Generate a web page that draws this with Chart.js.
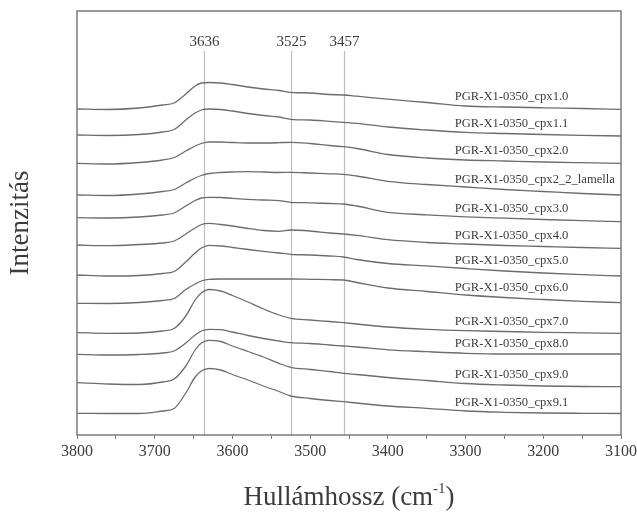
<!DOCTYPE html>
<html lang="hu">
<head>
<meta charset="utf-8">
<title>PGR-X1-0350 cpx – OH sávok</title>
<script src="https://cdn.jsdelivr.net/npm/chart.js@4.4.1/dist/chart.umd.min.js"></script>
<style>
  html, body { margin: 0; padding: 0; background: #fff; }
  #wrap { width: 637px; height: 512px; position: relative; }
</style>
</head>
<body>
<div id="wrap"><canvas id="spektrum"></canvas></div>
<script>
// --- Adatok (leolvasva az ábráról, eltolt spektrumok, tetszőleges egység) ---
const hullamszam = [3800, 3760, 3720, 3690, 3675, 3660, 3648, 3640, 3630, 3615, 3600, 3580, 3560,
                    3540, 3525, 3500, 3475, 3457, 3440, 3400, 3350, 3300, 3250, 3200, 3150, 3100];

const mintak = ['PGR-X1-0350_cpx1.0', 'PGR-X1-0350_cpx1.1', 'PGR-X1-0350_cpx2.0',
                'PGR-X1-0350_cpx2_2_lamella', 'PGR-X1-0350_cpx3.0', 'PGR-X1-0350_cpx4.0',
                'PGR-X1-0350_cpx5.0', 'PGR-X1-0350_cpx6.0', 'PGR-X1-0350_cpx7.0',
                'PGR-X1-0350_cpx8.0', 'PGR-X1-0350_cpx9.0', 'PGR-X1-0350_cpx9.1'];

const cpx1_0 = [326, 325.5, 327, 330, 332, 341, 349, 352, 352.5, 352, 350.5, 348, 346,
                344.5, 342.7, 342, 340.5, 340, 338.8, 335.8, 332.5, 329, 328, 327.2, 326.5, 325.7];
const cpx1_1 = [300, 299.5, 300.5, 303, 305.5, 315, 322, 325, 326, 325.5, 324, 321.5, 319.5,
                318, 315.7, 315, 313.7, 312.7, 311.7, 308, 305, 302.7, 301.5, 300.5, 299.7, 299];
const cpx2_0 = [271.7, 271, 272.5, 275, 277.5, 284, 289, 291.5, 293, 293, 292.5, 292, 292,
                292.3, 292.7, 291.5, 289.5, 288.3, 286.5, 280.5, 277, 275, 274, 273, 272.3, 271.7];
const cpx2_2 = [240, 239.5, 241, 243.5, 245.5, 252, 257, 259.5, 261.5, 262.5, 263, 263.3, 263,
                262.5, 262.7, 262, 261.2, 260.7, 259, 253.7, 250.5, 248, 245.5, 243.5, 241.5, 240];
const cpx3_0 = [217.3, 217, 218, 220, 222, 229, 234.5, 237, 237.7, 237.5, 236.7, 235.7, 235,
                234.3, 232.7, 232.2, 231.5, 231, 229, 222.7, 220.2, 218.2, 216.8, 215.5, 214.3, 213.3];
const cpx4_0 = [190, 189.3, 190.5, 192, 194, 201, 207, 210.5, 211.7, 210.5, 209, 206.5, 204.5,
                203.7, 205, 204, 202, 201, 199.7, 195.3, 192.5, 191, 189.5, 188.5, 187.5, 186.7];
const cpx5_0 = [160, 159, 159.5, 161.5, 163.5, 173, 182, 187, 189.7, 189, 187.5, 185.5, 183.7,
                182, 180.7, 180, 179, 178, 175.5, 171.5, 169.2, 166.5, 164, 162, 160.3, 159];
const cpx6_0 = [131.7, 131.5, 132.5, 134.5, 136.5, 145.5, 151, 154, 155.7, 156, 156, 156, 156,
                156, 156, 155.7, 155.3, 155, 152.5, 147, 143.5, 140, 137.5, 135.5, 133.7, 132.3];
const cpx7_0 = [102.3, 101.7, 102, 104, 106.5, 119, 135, 142, 145.5, 144, 139.5, 133, 126,
                120, 116.7, 115, 113.5, 112.3, 111, 108, 105.7, 104.3, 103.5, 102.7, 102.2, 101.7];
const cpx8_0 = [80.7, 80, 80.5, 82, 84, 92, 100, 104, 105.7, 105.3, 103, 99.5, 96.5,
                94, 92.3, 91.5, 90, 89, 88, 85.2, 83.3, 81.7, 81, 81, 81, 81];
const cpx9_0 = [52.3, 51, 50.5, 53, 56, 69, 85, 92, 94.7, 93.5, 89, 83.5, 78,
                71.7, 67.7, 65.5, 63.5, 61.7, 60.5, 57.5, 54.5, 51.5, 50, 49, 48.5, 48.3];
const cpx9_1 = [21.7, 21.5, 21.5, 24, 26.5, 42, 58, 64, 66.5, 65, 60.5, 55, 49,
                43.5, 39, 36.5, 34.5, 33.3, 32, 29, 26.7, 24, 22.7, 22, 21.7, 21.5];

const spektrumok = [cpx1_0, cpx1_1, cpx2_0, cpx2_2, cpx3_0, cpx4_0,
                    cpx5_0, cpx6_0, cpx7_0, cpx8_0, cpx9_0, cpx9_1];

// jellemző OH sávok (cm-1)
const csucsok = [3636, 3525, 3457];
const xTickek = [3800, 3700, 3600, 3500, 3400, 3300, 3200, 3100];

// --- Megjelenés ---
const SERIF = '"Liberation Serif", "DejaVu Serif", serif';
const SZOVEG = '#3c3c3c';
const VONAL = '#6c6c6c';
const KERET = '#7c7c7c';
const CIMKE_HULLAMSZAM = 3314;   // a mintanevek bal széle
const CIMKE_REF_INDEX = 22;      // a görbe ezen pontja fölé kerül a név

const keretPlugin = {
    id: 'keret',
    beforeDatasetsDraw(chart) {
        const { ctx, chartArea, scales } = chart;
        ctx.save();
        ctx.strokeStyle = '#bdbdbd';
        ctx.lineWidth = 1.2;
        ctx.font = `15px ${SERIF}`;
        ctx.fillStyle = SZOVEG;
        ctx.textAlign = 'center';
        ctx.textBaseline = 'middle';
        csucsok.forEach(c => {
            const x = Math.round(scales.x.getPixelForValue(c)) + 0.5;
            ctx.beginPath();
            ctx.moveTo(x, chartArea.bottom);
            ctx.lineTo(x, chartArea.top + 40);
            ctx.stroke();
            ctx.fillText(String(c), x, chartArea.top + 31);
        });
        ctx.restore();
    },
    afterDraw(chart) {
        const { ctx, chartArea, scales } = chart;
        ctx.save();
        // teljes keret
        ctx.strokeStyle = KERET;
        ctx.lineWidth = 1.5;
        ctx.strokeRect(chartArea.left, chartArea.top,
                       chartArea.right - chartArea.left, chartArea.bottom - chartArea.top);

        // mintanevek
        ctx.font = `12.6px ${SERIF}`;
        ctx.fillStyle = SZOVEG;
        ctx.textAlign = 'left';
        ctx.textBaseline = 'middle';
        const xc = scales.x.getPixelForValue(CIMKE_HULLAMSZAM);
        spektrumok.forEach((s, i) => {
            const y = scales.y.getPixelForValue(s[CIMKE_REF_INDEX]) - 10;
            ctx.fillText(mintak[i], xc, y);
        });

        // x tengely címe felső indexszel
        const fo = `27px ${SERIF}`, felso = `15px ${SERIF}`;
        const t1 = 'Hullámhossz (cm', t2 = '-1', t3 = ')';
        ctx.font = fo;
        const w1 = ctx.measureText(t1).width, w3 = ctx.measureText(t3).width;
        ctx.font = felso;
        const w2 = ctx.measureText(t2).width;
        const kozep = (chartArea.left + chartArea.right) / 2;
        let x = kozep - (w1 + w2 + w3) / 2;
        const alap = chartArea.bottom + 70;
        ctx.textBaseline = 'alphabetic';
        ctx.font = fo;
        ctx.fillText(t1, x, alap);
        x += w1;
        ctx.font = felso;
        ctx.fillText(t2, x, alap - 12);
        x += w2;
        ctx.font = fo;
        ctx.fillText(t3, x, alap);
        ctx.restore();
    }
};

function inicializarSpektrumok() {
    const ctx = document.getElementById('spektrum');

    const datasets = spektrumok.map((s, i) => ({
        label: mintak[i],
        data: hullamszam.map((h, j) => ({ x: h, y: s[j] })),
        borderColor: VONAL,
        borderWidth: 1.3,
        pointRadius: 0,
        fill: false,
        cubicInterpolationMode: 'monotone'
    }));

    new Chart(ctx, {
        type: 'line',
        data: { datasets },
        options: {
            responsive: true,
            maintainAspectRatio: false,
            animation: false,
            devicePixelRatio: 1,
            layout: { padding: { top: 11, right: 16, left: 0, bottom: 0 } },
            plugins: { legend: { display: false }, tooltip: { enabled: false } },
            scales: {
                x: {
                    type: 'linear',
                    min: 3100,
                    max: 3800,
                    reverse: true,
                    border: { display: false },
                    grid: { drawOnChartArea: false, drawTicks: true, tickLength: 4, color: KERET },
                    ticks: {
                        stepSize: 50,
                        autoSkip: false,
                        maxRotation: 0,
                        color: SZOVEG,
                        font: { family: SERIF, size: 16 },
                        callback: v => xTickek.includes(v) ? String(v) : ''
                    },
                    afterFit: s => { s.height = 77; s.paddingLeft = 0; s.paddingRight = 0; }
                },
                y: {
                    min: 0,
                    max: 424,
                    border: { display: false },
                    grid: { display: false },
                    ticks: { display: false },
                    title: {
                        display: true,
                        text: 'Intenzitás',
                        color: SZOVEG,
                        font: { family: SERIF, size: 27 },
                        padding: { top: 5, bottom: 0 }
                    },
                    afterFit: s => { s.width = 77; }
                }
            }
        },
        plugins: [keretPlugin]
    });
}

inicializarSpektrumok();
</script>
</body>
</html>
